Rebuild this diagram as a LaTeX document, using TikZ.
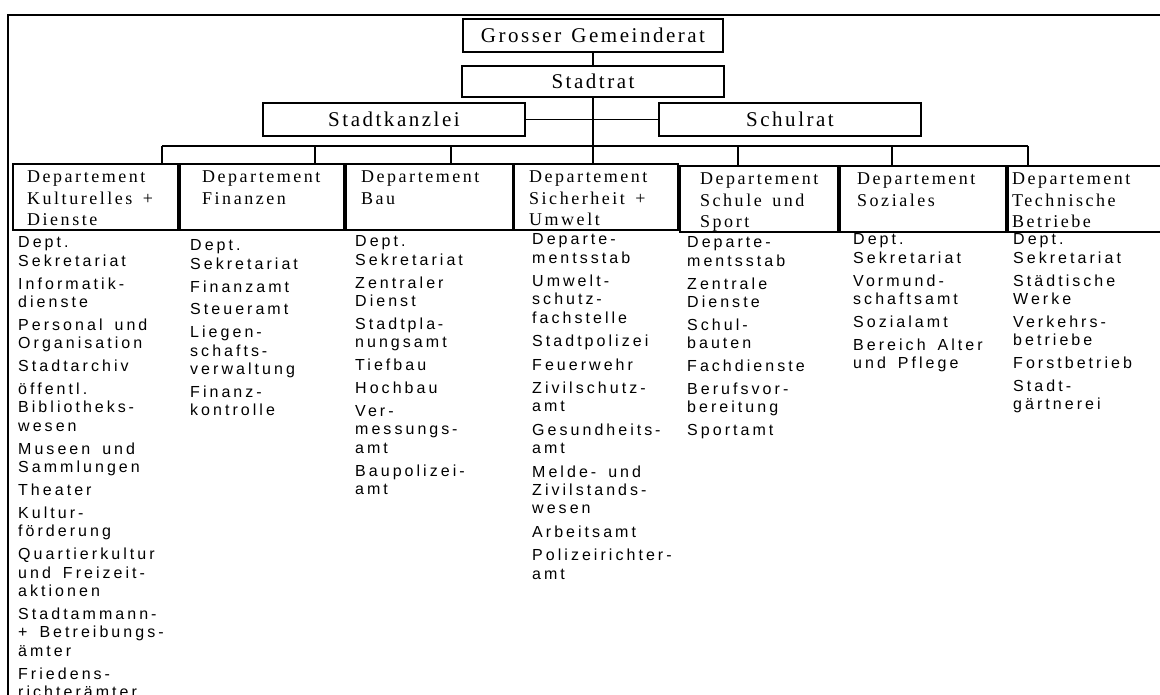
\documentclass[tikz,border=0pt]{standalone}
\usepackage{fontspec}
\setmainfont{Liberation Serif}
\newfontfamily\boxfont[LetterSpace=12,WordSpace=1.3]{Liberation Serif}
\newfontfamily\deptfont[LetterSpace=14,WordSpace=1.5]{Liberation Serif}
\newfontfamily\listfont[LetterSpace=19,WordSpace=1.6]{Liberation Sans}
\tikzset{
  topbox/.style={draw,line width=1.8pt,inner sep=0pt,font=\boxfont\fontsize{21}{24}\selectfont},
  deptbox/.style={draw,line width=1.8pt,inner sep=0pt,anchor=north west,minimum height=66pt},
  depttext/.style={inner sep=0pt,anchor=north west,align=left,font=\deptfont\fontsize{18}{21.5}\selectfont},
  unitlist/.style={inner sep=0pt,anchor=north west,align=left,font=\listfont\fontsize{16}{18.4}\selectfont},
  link/.style={line width=1.3pt}
}

\begin{document}
\begin{tikzpicture}[x=1pt,y=-1pt]
  \clip (0,0) rectangle (1160,695);
  % frame
  \draw[line width=1.8pt] (8,720) -- (8,15) -- (1180,15);

  % top levels
  \node[topbox,minimum width=260pt,minimum height=33pt] (ggr) at (593,35.5) {Grosser Gemeinderat};
  \node[topbox,minimum width=262pt,minimum height=31pt] (srat) at (593,81.5) {Stadtrat};
  \node[topbox,minimum width=262pt,minimum height=33pt] (skanz) at (394,119.5) {Stadtkanzlei};
  \node[topbox,minimum width=262pt,minimum height=33pt] (srat2) at (790,119.5) {Schulrat};
  \draw[link] (ggr) -- (srat);
  \draw[link] (skanz) -- (srat2);

  % departments
  \foreach \i/\x/\y/\w/\dx/\txt in {
      1/12/163/165/15/{Departement\\Kulturelles +\\Dienste},
      2/179/163/164/23/{Departement\\Finanzen},
      3/345/163/167/16/{Departement\\Bau},
      4/513/163/164/16/{Departement\\Sicherheit +\\Umwelt},
      5/679/165/158/21/{Departement\\Schule und\\Sport},
      6/839/165/166/18/{Departement\\Soziales},
      7/1007/165/170/5/{Departement\\Technische\\Betriebe}} {
    \node[deptbox,minimum width=\w pt] (d\i) at (\x,\y) {};
    \node[depttext] (h\i) at ([shift={(\dx,8)}]d\i.north west) {\txt};
  }

  % bus
  \foreach \i/\x in {1/162,2/315,3/451,4/593,5/738,6/892,7/1028}
    \coordinate (b\i) at (\x,146);
  \draw[link] (b1) -- (b7);
  \foreach \i in {1,2,3,5,6,7}
    \draw[link] (b\i) -- (b\i |- d\i.north);
  \draw[link] (srat) -- (srat.south |- d4.north);

  % units
  \node[unitlist] (u1) at (18,236.5) {Dept.\\Sekretariat\\[4.5pt]Informatik-\\dienste\\[4.5pt]Personal und\\Organisation\\[4.5pt]Stadtarchiv\\[4.5pt]öffentl.\\Bibliotheks\,-\\wesen\\[4.5pt]Museen und\\Sammlungen\\[4.5pt]Theater\\[4.5pt]Kultur-\\förderung\\[4.5pt]Quartierkultur\\und Freizeit-\\aktionen\\[4.5pt]Stadtammann-\\+ Betreibungs-\\ämter\\[4.5pt]Friedens-\\richterämter};
  \node[unitlist] (u2) at (190,239.5) {Dept.\\Sekretariat\\[4.5pt]Finanzamt\\[4.5pt]Steueramt\\[4.5pt]Liegen-\\schafts\,-\\verwaltung\\[4.5pt]Finanz-\\kontrolle};
  \node[unitlist] (u3) at (355,235.5) {Dept.\\Sekretariat\\[4.5pt]Zentraler\\Dienst\\[4.5pt]Stadtpla\,-\\nungsamt\\[4.5pt]Tiefbau\\[4.5pt]Hochbau\\[4.5pt]Ver-\\messungs\,-\\amt\\[4.5pt]Baupolizei-\\amt};
  \node[unitlist] (u4) at (532,233.5) {Departe-\\mentsstab\\[5pt]Umwelt-\\schutz\,-\\fachstelle\\[5pt]Stadtpolizei\\[5pt]Feuerwehr\\[5pt]Zivilschutz-\\amt\\[5pt]Gesundheits\,-\\amt\\[5pt]Melde- und\\Zivilstands-\\wesen\\[5pt]Arbeitsamt\\[5pt]Polizeirichter-\\amt};
  \node[unitlist] (u5) at (687,236.5) {Departe-\\mentsstab\\[4.5pt]Zentrale\\Dienste\\[4.5pt]Schul-\\bauten\\[4.5pt]Fachdienste\\[4.5pt]Berufsvor-\\bereitung\\[4.5pt]Sportamt};
  \node[unitlist] (u6) at (853,233.5) {Dept.\\Sekretariat\\[4.5pt]Vormund-\\schaftsamt\\[4.5pt]Sozialamt\\[4.5pt]Bereich Alter\\und Pflege};
  \node[unitlist] (u7) at (1013,233.5) {Dept.\\Sekretariat\\[4.5pt]Städtische\\Werke\\[4.5pt]Verkehrs-\\betriebe\\[4.5pt]Forstbetrieb\\[4.5pt]Stadt-\\gärtnerei};
\end{tikzpicture}
\end{document}
